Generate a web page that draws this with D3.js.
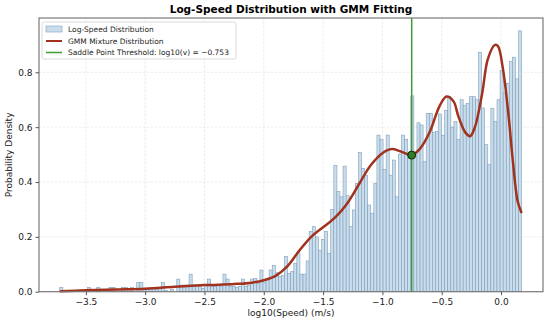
<!DOCTYPE html>
<html><head><meta charset="utf-8">
<script src="https://cdn.jsdelivr.net/npm/d3@7"></script>
<style>
html,body{margin:0;padding:0;background:#fff;}
svg{display:block;font-family:"DejaVu Sans",sans-serif;}
</style></head>
<body><svg id="c" width="550" height="323"></svg>
<script>
// ---- data ----
const histMin = -3.72;
const histMax = 0.174;
const histDensity = [
 0.016,0,0,0,0,0,0,0,0,0.016, 0,0,0.016,0,0,0,0.016,0.016,0,0,
 0.016,0.016,0.012,0.016,0,0.033,0.033,0.008,0.008,0.01, 0.01,0.008,0.012,0.033,0.004,0,0.008,0,0.046,0.024,
 0.024,0.024,0.064,0.024,0.024,0.02,0.012,0.024,0.046,0.02, 0.02,0.024,0.02,0.064,0.046,0.02,0.02,0.016,0.02,0.046,
 0.02,0.024,0.046,
 0.049,0.03,0.079,0.035,0.049,0.079,0.095,0.069,0.055,0.06, 0.128,0.067,0.073,0.103,0.142,0.064,0.064,0.112,0.219,0.237,
 0.2,0.15,0.19,0.22,0.14,0.30,0.46,0.365,0.346,
 0.458,0.35,0.237,0.298,0.395,0.507,0.45,0.425,0.316,0.286, 0.395,0.571,0.556,0.446,0.571,0.425,0.48,0.346,0.502,0.571,
 0.556,0.502,0.714,
 0.498,0.616,0.608,0.474,0.65,
 0.65,0.58,0.585,0.648,0.57,0.66,0.711,0.60,0.62,0.555, 0.70,0.68,0.687,0.711,0.711,0.70,0.873,0.67,0.536,0.463,
 0.669,0.62,0.70,0.806,0.725,0.76,0.839,0.855,0.776,0.951
];
const gmmX = [-3.72,-3.5,-3.25,-3.0,-2.75,-2.5,-2.25,-2.1,-2.0,-1.9,-1.8,-1.7,-1.6,-1.5,-1.4,-1.3,-1.2,-1.1,-1.0,-0.92,-0.85,-0.753,-0.68,-0.6,-0.52,-0.46,-0.4,-0.36,-0.3,-0.26,-0.22,-0.16,-0.11,-0.05,-0.025,0.015,0.06,0.10,0.14,0.174];
const gmmY = [0.002,0.005,0.008,0.011,0.018,0.024,0.028,0.033,0.042,0.058,0.093,0.15,0.20,0.235,0.27,0.32,0.39,0.46,0.505,0.52,0.512,0.498,0.523,0.583,0.675,0.712,0.694,0.64,0.58,0.567,0.60,0.72,0.85,0.90,0.895,0.816,0.658,0.476,0.33,0.287];
const threshold = -0.753;
const thresholdDensity = 0.498;
const xTicks = [-3.5,-3.0,-2.5,-2.0,-1.5,-1.0,-0.5,0.0];
const yTicks = [0.0,0.2,0.4,0.6,0.8];
const legendLabels = ["Log-Speed Distribution","GMM Mixture Distribution","Saddle Point Threshold: log10(v) = \u22120.753"];
const titleText = "Log-Speed Distribution with GMM Fitting";
const xLabel = "log10(Speed) (m/s)";
const yLabel = "Probability Density";

// ---- layout ----
const L=39, R=543, T=18, B=291.7;
const svg = d3.select("#c");
const x = d3.scaleLinear().domain([-3.895,0.354]).range([L,R]);
const y = d3.scaleLinear().domain([0,0.998]).range([B,T]);
const fmt = v => d3.format(".1f")(v).replace("-","\u2212");

// grid
const g = svg.append("g");
g.selectAll(".gx").data(xTicks).join("line")
 .attr("x1",d=>x(d)).attr("x2",d=>x(d)).attr("y1",T).attr("y2",B)
 .attr("stroke","#e4e4e4").attr("stroke-width",0.7).attr("stroke-dasharray","2.5,1.5");
g.selectAll(".gy").data(yTicks).join("line")
 .attr("x1",L).attr("x2",R).attr("y1",d=>y(d)).attr("y2",d=>y(d))
 .attr("stroke","#e4e4e4").attr("stroke-width",0.7).attr("stroke-dasharray","2.5,1.5");

// histogram
const n = histDensity.length;
const bw = (histMax-histMin)/n;
const bins = histDensity.map((v,i)=>({x0:histMin+i*bw, x1:histMin+(i+1)*bw, v}));
svg.append("g").selectAll("rect").data(bins.filter(b=>b.v>0)).join("rect")
 .attr("x",d=>x(d.x0)).attr("width",d=>x(d.x1)-x(d.x0))
 .attr("y",d=>y(d.v)).attr("height",d=>y(0)-y(d.v))
 .attr("fill","#cadded").attr("stroke","#7f9fba").attr("stroke-width",0.6);

// GMM curve
const pts = gmmX.map((d,i)=>[d,gmmY[i]]);
svg.append("path").datum(pts)
 .attr("d", d3.line().x(d=>x(d[0])).y(d=>y(d[1])).curve(d3.curveCatmullRom.alpha(0.5)))
 .attr("fill","none").attr("stroke","#a0321e").attr("stroke-width",2.5);

// threshold
svg.append("line").attr("x1",x(threshold)).attr("x2",x(threshold)).attr("y1",T).attr("y2",B)
 .attr("stroke","#3f9b35").attr("stroke-width",1.5);
svg.append("circle").attr("cx",x(threshold)).attr("cy",y(thresholdDensity)).attr("r",4)
 .attr("fill","#2f7d22").attr("stroke","#0d2a08").attr("stroke-width",1);

// axes frame
svg.append("rect").attr("x",L).attr("y",T).attr("width",R-L).attr("height",B-T)
 .attr("fill","none").attr("stroke","#7a7a7a").attr("stroke-width",1.2);

const xa = svg.append("g").attr("transform",`translate(0,${B})`)
 .call(d3.axisBottom(x).tickValues(xTicks).tickFormat(fmt).tickSize(3.5).tickPadding(3));
const ya = svg.append("g").attr("transform",`translate(${L},0)`)
 .call(d3.axisLeft(y).tickValues(yTicks).tickFormat(fmt).tickSize(3.5).tickPadding(3));
[xa,ya].forEach(a=>{
  a.select(".domain").remove();
  a.selectAll("line").attr("stroke","#555");
  a.selectAll("text").attr("font-size",9).attr("fill","#222").attr("font-family","DejaVu Sans");
});

// labels
svg.append("text").attr("x",(L+R)/2).attr("y",13).attr("text-anchor","middle")
 .attr("font-size",10.5).attr("font-weight","bold").attr("fill","#000").text(titleText);
svg.append("text").attr("x",(L+R)/2).attr("y",316).attr("text-anchor","middle")
 .attr("font-size",9).attr("fill","#222").text(xLabel);
svg.append("text").attr("transform",`translate(12,${(T+B)/2}) rotate(-90)`).attr("text-anchor","middle")
 .attr("font-size",9).attr("fill","#222").text(yLabel);

// legend
const lg = svg.append("g");
lg.append("rect").attr("x",42).attr("y",22).attr("width",194).attr("height",37).attr("rx",2)
 .attr("fill","rgba(255,255,255,0.85)").attr("stroke","#d0d0d0").attr("stroke-width",0.8);
const rows=[29,41,52.5];
lg.append("rect").attr("x",46).attr("y",rows[0]-3).attr("width",16).attr("height",6)
 .attr("fill","#cadded").attr("stroke","#7f9fba").attr("stroke-width",0.6);
lg.append("line").attr("x1",46).attr("x2",62).attr("y1",rows[1]).attr("y2",rows[1])
 .attr("stroke","#a0321e").attr("stroke-width",2);
lg.append("line").attr("x1",46).attr("x2",62).attr("y1",rows[2]).attr("y2",rows[2])
 .attr("stroke","#3f9b35").attr("stroke-width",1.5);
lg.selectAll("text.l").data(legendLabels).join("text")
 .attr("x",68).attr("y",(d,i)=>rows[i]+2.7).attr("font-size",7.5).attr("fill","#222").text(d=>d);
</script></body></html>
